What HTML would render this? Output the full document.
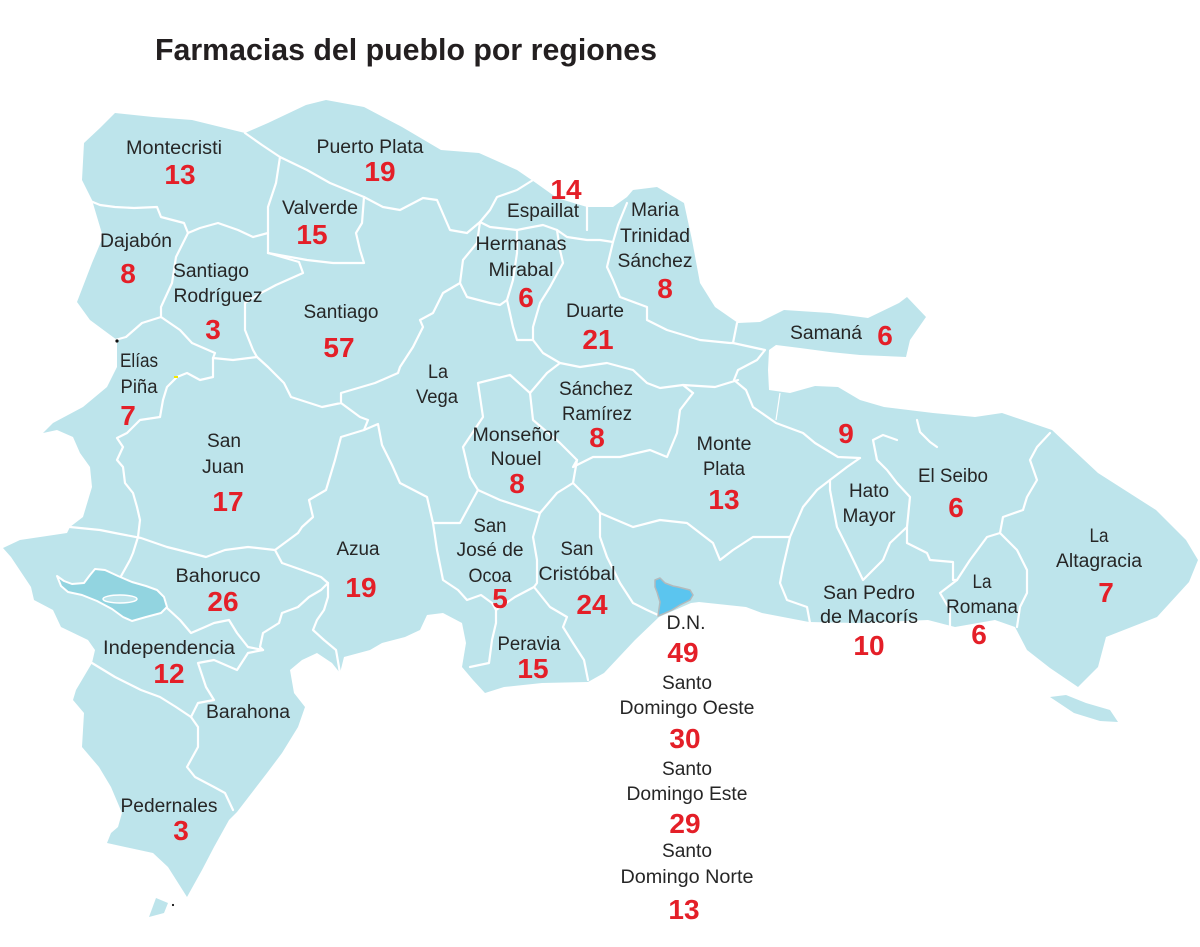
<!DOCTYPE html>
<html><head><meta charset="utf-8"><style>
html,body{margin:0;padding:0;background:#fff;}
svg{display:block;}
.l{font-family:"Liberation Sans","DejaVu Sans",sans-serif;font-size:19px;fill:#262626;text-anchor:middle;}
.n{font-family:"Liberation Sans","DejaVu Sans",sans-serif;font-size:28px;font-weight:bold;fill:#e41f28;text-anchor:middle;}
.b{fill:none;stroke:#fff;stroke-width:2.2;stroke-linejoin:round;stroke-linecap:round;}
</style></head><body>
<svg width="1200" height="947" viewBox="0 0 1200 947" xmlns="http://www.w3.org/2000/svg">
<rect width="1200" height="947" fill="#fff"/>
<text x="155" y="60" font-family="Liberation Sans, sans-serif" font-size="31" font-weight="bold" fill="#231f20" textLength="502" lengthAdjust="spacingAndGlyphs">Farmacias del pueblo por regiones</text>

<path fill="#bde4eb" d="M84,143 L100,128 L115,113 L153,117 L192,120 L245,133 L268,123 L306,105 L326,100 L364,107 L402,127 L441,150 L479,153 L517,170 L536,183 L557,198 L587,207 L613,207 L627,197 L633,190 L657,187 L684,203 L692,240 L700,283 L715,307 L738,323 L760,322 L784,310 L830,313 L868,318 L899,303 L907,297 L926,317 L910,340 L906,357 L860,355 L830,352 L800,348 L776,345 L769,350 L768,370 L769,390 L790,393 L815,386 L838,387 L860,400 L884,407 L933,413 L975,417 L1002,413 L1052,430 L1098,473 L1156,510 L1186,540 L1198,560 L1189,582 L1157,617 L1106,637 L1098,667 L1078,687 L1050,668 L1027,650 L1015,627 L995,620 L955,627 L928,620 L857,623 L809,622 L762,613 L746,607 L699,602 L691,603 L659,617 L635,640 L604,673 L588,682 L542,683 L504,687 L485,693 L473,680 L462,667 L466,643 L462,623 L443,613 L427,615 L420,630 L405,637 L382,643 L370,650 L344,657 L340,673 L332,663 L317,653 L302,660 L290,670 L294,693 L305,707 L298,727 L282,753 L267,773 L237,812 L229,820 L214,847 L202,870 L187,897 L168,867 L153,853 L107,843 L111,833 L118,827 L122,813 L111,787 L99,767 L82,747 L84,713 L73,700 L76,690 L92,663 L95,650 L88,640 L61,627 L53,610 L34,600 L31,587 L11,557 L3,548 L20,540 L67,533 L70,527 L83,517 L92,487 L90,467 L80,453 L73,437 L57,430 L43,433 L53,423 L83,407 L107,387 L117,367 L117,340 L90,320 L77,302 L92,263 L103,237 L92,200 L82,180 Z"/>
<!-- islands -->
<path fill="#bde4eb" d="M1050,697 L1066,695 L1086,703 L1110,710 L1118,722 L1100,721 L1074,713 Z"/>
<path fill="#bde4eb" d="M149,917 L156,898 L168,903 L164,913 Z"/>

<!-- borders -->
<g class="b">
<polyline points="88,200 100,205 115,207 134,208 157,207 161,217 184,223 188,233 200,228 218,223 238,230 253,237 268,233"/>
<polyline points="245,133 262,145 280,157 276,183 268,207 268,233 268,253"/>
<polyline points="280,157 307,170 330,183 364,197 383,207 400,210 423,198 437,200 450,230 467,233 480,222 490,210 497,197 517,190 533,180"/>
<polyline points="364,197 362,223 356,233 360,250 364,263 333,263 307,260 268,253"/>
<polyline points="188,233 176,257 172,283 161,307 161,317 142,323 126,337 115,340"/>
<polyline points="268,253 299,262 303,273 276,285 261,293 245,303 245,330 253,350 257,357"/>
<polyline points="161,317 180,330 192,343 215,353 213,358 233,360 257,357"/>
<polyline points="213,358 213,377 200,380 187,373 177,377 167,387 163,400 160,417 140,420 127,433 117,438 123,447 117,460 123,467 125,483 133,493 137,507 140,520 138,537 133,553 130,560 120,578"/>
<polyline points="257,357 268,367 284,383 291,397 322,407 341,403 341,393 375,383 398,373 400,367 413,347 423,327 420,320 433,313 443,293 460,283 463,260 477,243 480,222"/>
<polyline points="341,403 360,417 368,420 364,430 341,437 335,460 326,490 309,500 313,517 302,527 298,533 275,550"/>
<polyline points="70,527 100,530 115,533 141,538 167,547 179,550 206,557 225,550 248,547 275,550"/>
<polyline points="275,550 282,563 302,570 321,577 328,583 321,590 309,597 298,607 282,613 279,623 263,633 260,647 263,650"/>
<polyline points="167,608 180,620 191,633 205,627 214,623 229,620 237,633 248,647 263,650"/>
<polyline points="263,650 248,653 237,670 214,660 198,663 206,687 214,700 198,703 191,717"/>
<polyline points="328,583 328,597 324,610 317,620 313,630 324,640 336,650 340,673"/>
<polyline points="92,663 115,677 141,690 160,697 176,707 191,717 198,727 198,747 187,767 195,777 214,787 225,793 233,810"/>
<polyline points="364,430 378,424 382,445 392,465 400,483 427,497 433,523 460,523 478,490"/>
<polyline points="433,523 437,550 443,580 458,590 467,600 481,595 492,603 496,610 496,623 492,640 489,663 470,667"/>
<polyline points="478,383 510,375 530,393 533,420 560,443 577,460 573,483 557,493 540,513 500,500 478,490 470,477 463,447 483,417 478,383"/>
<polyline points="530,393 547,373 560,363"/>
<polyline points="533,340 543,353 560,363 580,367 607,363 633,370 647,383 660,388 683,385 693,393"/>
<polyline points="693,393 680,410 677,433 667,457 650,450 620,457 593,457 573,467 577,460"/>
<polyline points="573,483 587,497 600,513 600,537 607,557 620,583 633,603 647,610 658,615"/>
<polyline points="600,513 633,527 660,520 687,523 713,543 720,560 733,550 753,537 773,537 790,537"/>
<polyline points="790,537 783,567 780,583 787,600 807,607 810,623"/>
<polyline points="790,537 803,507 817,490 830,480 847,467 860,458"/>
<polyline points="860,458 838,457 815,443 803,433 776,423 753,407 746,390 734,380 738,370 757,360 765,350 733,343"/>
<polyline points="683,385 715,387 738,380"/>
<polyline points="733,343 737,323"/>
<polyline points="613,242 607,267 613,280 620,297 647,307 647,320 667,330 700,340 730,343 733,343"/>
<polyline points="830,480 830,490 837,527 847,547 863,580 883,560 890,543 907,527 910,497 897,483 887,470 877,460 873,440 883,435 897,440"/>
<polyline points="917,420 920,432 930,442 937,447"/>
<polyline points="1050,433 1037,447 1030,460 1037,480 1027,497 1023,510 1003,517 1000,533 1007,540 1017,550 1027,570 1027,593 1020,607 1017,627"/>
<polyline points="1000,533 987,537 970,560 957,580 940,593 950,610 950,627"/>
<polyline points="907,527 907,543 927,553 930,560 953,562 953,580 957,580"/>
<polyline points="540,513 533,537 537,560 537,583 534,587"/>
<polyline points="496,610 515,597 534,587"/>
<polyline points="534,587 550,607 567,617 563,627 573,643 584,660 588,680"/>
<polyline points="460,283 467,297 490,303 500,305 507,300"/>
<polyline points="517,230 517,253 513,280 507,300 513,327 517,340 533,340"/>
<polyline points="557,230 560,250 563,263 550,287 540,303 533,327 533,340"/>
<polyline points="480,222 490,227 517,230 527,228 543,225 557,230 567,237 587,240 600,240 613,242"/>
<polyline points="587,207 587,230"/>
<polyline points="613,242 618,225 627,203"/>
</g>
<polyline points="780,393 776,420" fill="none" stroke="#fff" stroke-width="1.2"/>

<!-- lake -->
<path d="M57,576 L64,581 L72,584 L84,583 L90,575 L95,569 L105,570 L118,576 L132,582 L146,586 L157,590 L164,597 L167,607 L161,613 L146,617 L132,621 L123,617 L112,609 L97,601 L82,595 L68,592 L61,586 Z" fill="#92d4e0" stroke="#fff" stroke-width="2" stroke-linejoin="round"/>
<ellipse cx="120" cy="599" rx="17" ry="4" fill="#bde4eb" stroke="#fff" stroke-width="1.5"/>

<!-- D.N. -->
<path d="M655,580 L660,578 L665,583 L673,586 L678,587 L690,590 L693,595 L690,600 L680,605 L672,610 L663,614 L658,616 L660,602 L657,592 L655,587 Z" fill="#5bc5ef" stroke="#b3babc" stroke-width="1.5" stroke-linejoin="round"/>

<circle cx="117" cy="341" r="1.6" fill="#111"/>
<circle cx="173" cy="905" r="1.1" fill="#111"/>
<rect x="174" y="376" width="4" height="2" fill="#f3e600"/>

<!-- labels -->
<g class="l">
<text x="174" y="154" textLength="96" lengthAdjust="spacingAndGlyphs">Montecristi</text>
<text x="370" y="153" textLength="107" lengthAdjust="spacingAndGlyphs">Puerto Plata</text>
<text x="320" y="214" textLength="76" lengthAdjust="spacingAndGlyphs">Valverde</text>
<text x="136" y="247" textLength="72" lengthAdjust="spacingAndGlyphs">Dajabón</text>
<text x="211" y="277" textLength="76" lengthAdjust="spacingAndGlyphs">Santiago</text>
<text x="218" y="302" textLength="89" lengthAdjust="spacingAndGlyphs">Rodríguez</text>
<text x="341" y="318" textLength="75" lengthAdjust="spacingAndGlyphs">Santiago</text>
<text x="139" y="367" textLength="38" lengthAdjust="spacingAndGlyphs">Elías</text>
<text x="139" y="393" textLength="37" lengthAdjust="spacingAndGlyphs">Piña</text>
<text x="224" y="447" textLength="34" lengthAdjust="spacingAndGlyphs">San</text>
<text x="223" y="473" textLength="42" lengthAdjust="spacingAndGlyphs">Juan</text>
<text x="438" y="378" textLength="20" lengthAdjust="spacingAndGlyphs">La</text>
<text x="437" y="403" textLength="42" lengthAdjust="spacingAndGlyphs">Vega</text>
<text x="543" y="217" textLength="72" lengthAdjust="spacingAndGlyphs">Espaillat</text>
<text x="521" y="250" textLength="91" lengthAdjust="spacingAndGlyphs">Hermanas</text>
<text x="521" y="276" textLength="65" lengthAdjust="spacingAndGlyphs">Mirabal</text>
<text x="655" y="216" textLength="48" lengthAdjust="spacingAndGlyphs">Maria</text>
<text x="655" y="242" textLength="70" lengthAdjust="spacingAndGlyphs">Trinidad</text>
<text x="655" y="267" textLength="75" lengthAdjust="spacingAndGlyphs">Sánchez</text>
<text x="595" y="317" textLength="58" lengthAdjust="spacingAndGlyphs">Duarte</text>
<text x="826" y="339" textLength="72" lengthAdjust="spacingAndGlyphs">Samaná</text>
<text x="596" y="395" textLength="74" lengthAdjust="spacingAndGlyphs">Sánchez</text>
<text x="597" y="420" textLength="70" lengthAdjust="spacingAndGlyphs">Ramírez</text>
<text x="516" y="441" textLength="87" lengthAdjust="spacingAndGlyphs">Monseñor</text>
<text x="516" y="465" textLength="51" lengthAdjust="spacingAndGlyphs">Nouel</text>
<text x="724" y="450" textLength="55" lengthAdjust="spacingAndGlyphs">Monte</text>
<text x="724" y="475" textLength="42" lengthAdjust="spacingAndGlyphs">Plata</text>
<text x="869" y="497" textLength="40" lengthAdjust="spacingAndGlyphs">Hato</text>
<text x="869" y="522" textLength="53" lengthAdjust="spacingAndGlyphs">Mayor</text>
<text x="953" y="482" textLength="70" lengthAdjust="spacingAndGlyphs">El Seibo</text>
<text x="1099" y="542" textLength="19" lengthAdjust="spacingAndGlyphs">La</text>
<text x="1099" y="567" textLength="86" lengthAdjust="spacingAndGlyphs">Altagracia</text>
<text x="358" y="555" textLength="43" lengthAdjust="spacingAndGlyphs">Azua</text>
<text x="218" y="582" textLength="85" lengthAdjust="spacingAndGlyphs">Bahoruco</text>
<text x="490" y="532" textLength="33" lengthAdjust="spacingAndGlyphs">San</text>
<text x="490" y="556" textLength="67" lengthAdjust="spacingAndGlyphs">José de</text>
<text x="490" y="582" textLength="43" lengthAdjust="spacingAndGlyphs">Ocoa</text>
<text x="577" y="555" textLength="33" lengthAdjust="spacingAndGlyphs">San</text>
<text x="577" y="580" textLength="77" lengthAdjust="spacingAndGlyphs">Cristóbal</text>
<text x="169" y="654" textLength="132" lengthAdjust="spacingAndGlyphs">Independencia</text>
<text x="248" y="718" textLength="84" lengthAdjust="spacingAndGlyphs">Barahona</text>
<text x="529" y="650" textLength="63" lengthAdjust="spacingAndGlyphs">Peravia</text>
<text x="686" y="629" textLength="39" lengthAdjust="spacingAndGlyphs">D.N.</text>
<text x="869" y="599" textLength="92" lengthAdjust="spacingAndGlyphs">San Pedro</text>
<text x="869" y="623" textLength="98" lengthAdjust="spacingAndGlyphs">de Macorís</text>
<text x="982" y="588" textLength="19" lengthAdjust="spacingAndGlyphs">La</text>
<text x="982" y="613" textLength="72" lengthAdjust="spacingAndGlyphs">Romana</text>
<text x="687" y="689" textLength="50" lengthAdjust="spacingAndGlyphs">Santo</text>
<text x="687" y="714" textLength="135" lengthAdjust="spacingAndGlyphs">Domingo Oeste</text>
<text x="687" y="775" textLength="50" lengthAdjust="spacingAndGlyphs">Santo</text>
<text x="687" y="800" textLength="121" lengthAdjust="spacingAndGlyphs">Domingo Este</text>
<text x="687" y="857" textLength="50" lengthAdjust="spacingAndGlyphs">Santo</text>
<text x="687" y="883" textLength="133" lengthAdjust="spacingAndGlyphs">Domingo Norte</text>
<text x="169" y="812" textLength="97" lengthAdjust="spacingAndGlyphs">Pedernales</text>
</g>

<!-- numbers -->
<g class="n">
<text x="180" y="184">13</text>
<text x="380" y="181">19</text>
<text x="312" y="244">15</text>
<text x="128" y="283">8</text>
<text x="213" y="339">3</text>
<text x="339" y="357">57</text>
<text x="128" y="425">7</text>
<text x="228" y="511">17</text>
<text x="566" y="199">14</text>
<text x="526" y="307">6</text>
<text x="665" y="298">8</text>
<text x="598" y="349">21</text>
<text x="885" y="345">6</text>
<text x="597" y="447">8</text>
<text x="517" y="493">8</text>
<text x="724" y="509">13</text>
<text x="846" y="443">9</text>
<text x="956" y="517">6</text>
<text x="1106" y="602">7</text>
<text x="361" y="597">19</text>
<text x="223" y="611">26</text>
<text x="500" y="608">5</text>
<text x="592" y="614">24</text>
<text x="169" y="683">12</text>
<text x="533" y="678">15</text>
<text x="683" y="662">49</text>
<text x="869" y="655">10</text>
<text x="979" y="644">6</text>
<text x="685" y="748">30</text>
<text x="685" y="833">29</text>
<text x="684" y="919">13</text>
<text x="181" y="840">3</text>
</g>
</svg>
</body></html>
